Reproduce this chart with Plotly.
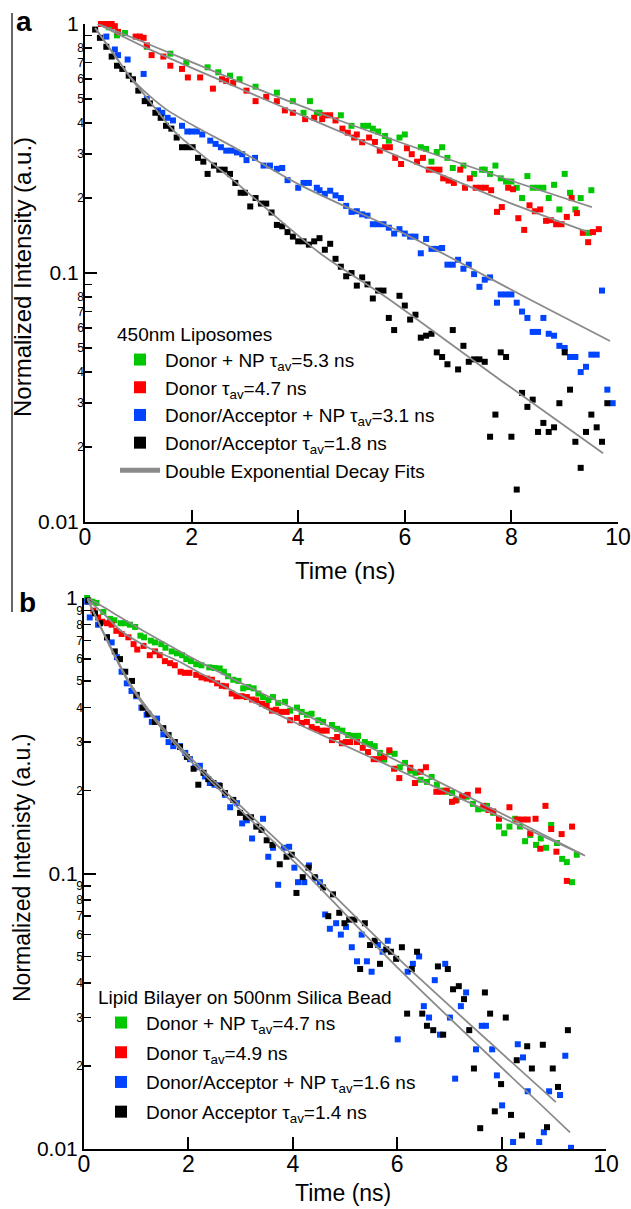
import plotly.graph_objects as go

# ---------------- Panel a data (450nm Liposomes) ----------------
a_green_t = [0.3, 0.45, 0.6, 0.75, 1.16, 1.6, 1.9, 2.3, 2.5, 2.72, 2.9, 3.2, 3.6, 3.9, 4.1, 4.22, 4.35, 4.4,
             4.8, 5.0, 5.22, 5.31, 5.4, 5.5, 5.63, 5.7, 5.9, 6.0, 6.3, 6.4, 6.5, 6.6, 6.7, 6.8, 6.9, 7.1, 7.3,
             7.45, 7.5, 7.6, 7.7, 7.8, 7.9, 8.0, 8.1, 8.2, 8.3, 8.4, 8.5, 8.6, 8.7, 8.8, 8.9, 9.0, 9.1, 9.2,
             9.3, 9.45, 9.5]
a_green_i = [1.0, 0.97, 0.90, 0.92, 0.81, 0.76, 0.70, 0.67, 0.64, 0.62, 0.60, 0.56, 0.53, 0.49, 0.44, 0.49,
             0.44, 0.44, 0.43, 0.39, 0.39, 0.39, 0.38, 0.37, 0.355, 0.34, 0.35, 0.36, 0.32, 0.315, 0.28, 0.306,
             0.32, 0.29, 0.264, 0.27, 0.25, 0.26, 0.26, 0.25, 0.27, 0.24, 0.233, 0.233, 0.22, 0.20, 0.245,
             0.22, 0.22, 0.22, 0.20, 0.226, 0.18, 0.25, 0.21, 0.18, 0.20, 0.145, 0.215]

a_red_t = [0.3, 0.4, 0.5, 0.56, 0.62, 0.95, 1.03, 1.1, 1.16, 1.25, 1.47, 1.6, 1.82, 1.93, 2.16, 2.4, 2.57,
           2.65, 2.78, 3.03, 3.2, 3.4, 3.6, 3.75, 3.9, 4.13, 4.3, 4.45, 4.5, 4.6, 4.7, 4.83, 4.93, 5.05, 5.1,
           5.2, 5.33, 5.44, 5.53, 5.63, 5.72, 5.82, 5.93, 6.04, 6.13, 6.23, 6.34, 6.45, 6.55, 6.65, 6.72,
           6.82, 6.92, 7.04, 7.13, 7.22, 7.33, 7.43, 7.52, 7.62, 7.73, 7.82, 7.94, 8.03, 8.13, 8.24, 8.34,
           8.44, 8.54, 8.65, 8.74, 8.84, 8.94, 9.04, 9.13, 9.23, 9.34, 9.44, 9.53, 9.64]
a_red_i = [1.0, 1.0, 1.0, 0.98, 0.93, 0.89, 0.89, 0.88, 0.82, 0.75, 0.74, 0.68, 0.66, 0.61, 0.61, 0.55,
           0.60, 0.59, 0.58, 0.54, 0.49, 0.51, 0.49, 0.45, 0.44, 0.415, 0.42, 0.415, 0.43, 0.43, 0.41, 0.38,
           0.366, 0.35, 0.36, 0.335, 0.35, 0.336, 0.31, 0.32, 0.32, 0.29, 0.274, 0.317, 0.30, 0.28, 0.29,
           0.26, 0.26, 0.26, 0.24, 0.235, 0.23, 0.26, 0.22, 0.24, 0.22, 0.22, 0.22, 0.215, 0.176, 0.184,
           0.22, 0.217, 0.166, 0.149, 0.187, 0.177, 0.18, 0.162, 0.163, 0.157, 0.157, 0.168, 0.20, 0.174,
           0.145, 0.133, 0.146, 0.15]

a_blue_t = [0.4, 0.56, 0.62, 0.8, 1.1, 1.16, 1.37, 1.45, 1.55, 1.65, 1.82, 1.92, 2.0, 2.1, 2.2, 2.35, 2.45,
            2.55, 2.65, 2.75, 2.85, 2.95, 3.03, 3.19, 3.35, 3.47, 3.6, 3.7, 3.8, 4.0, 4.1, 4.2, 4.35, 4.4,
            4.5, 4.6, 4.7, 4.8, 4.9, 5.0, 5.1, 5.2, 5.3, 5.4, 5.5, 5.6, 5.7, 5.8, 5.9, 6.0, 6.1, 6.2, 6.3,
            6.4, 6.5, 6.6, 6.7, 6.8, 6.9, 7.0, 7.1, 7.2, 7.3, 7.4, 7.5, 7.6, 7.73, 7.8, 7.9, 8.0, 8.1, 8.2,
            8.3, 8.4, 8.5, 8.6, 8.7, 8.8, 8.9, 9.0, 9.1, 9.2, 9.3, 9.4, 9.5, 9.6, 9.7, 9.8, 9.9]
a_blue_i = [0.89, 0.79, 0.75, 0.72, 0.63, 0.50, 0.45, 0.44, 0.42, 0.41, 0.39, 0.37, 0.37, 0.37, 0.36, 0.34,
            0.33, 0.32, 0.31, 0.31, 0.305, 0.30, 0.284, 0.29, 0.27, 0.27, 0.262, 0.264, 0.236, 0.22, 0.23,
            0.23, 0.22, 0.215, 0.208, 0.214, 0.205, 0.20, 0.186, 0.176, 0.177, 0.172, 0.17, 0.157, 0.157,
            0.157, 0.152, 0.144, 0.15, 0.144, 0.14, 0.14, 0.12, 0.137, 0.125, 0.125, 0.126, 0.108, 0.108,
            0.113, 0.104, 0.108, 0.099, 0.088, 0.094, 0.096, 0.076, 0.082, 0.082, 0.082, 0.076, 0.07,
            0.066, 0.058, 0.058, 0.066, 0.057, 0.056, 0.051, 0.05, 0.046, 0.046, 0.04, 0.042, 0.047, 0.047,
            0.085, 0.034, 0.030]

a_black_t = [0.19, 0.28, 0.4, 0.5, 0.6, 0.7, 0.82, 0.9, 1.0, 1.12, 1.22, 1.32, 1.42, 1.52, 1.62, 1.72, 1.82,
             1.92, 2.02, 2.12, 2.22, 2.3, 2.42, 2.52, 2.62, 2.72, 2.82, 2.92, 3.0, 3.1, 3.2, 3.3, 3.4, 3.5,
             3.6, 3.7, 3.8, 3.9, 4.0, 4.1, 4.2, 4.3, 4.4, 4.5, 4.6, 4.7, 4.8, 4.9, 5.0, 5.1, 5.2, 5.3, 5.4,
             5.5, 5.6, 5.7, 5.8, 5.9, 6.0, 6.1, 6.2, 6.3, 6.4, 6.5, 6.6, 6.7, 6.8, 6.9, 7.0, 7.1, 7.2, 7.3,
             7.4, 7.5, 7.6, 7.7, 7.8, 7.9, 8.0, 8.1, 8.2, 8.3, 8.4, 8.5, 8.6, 8.7, 8.8, 8.9, 9.0, 9.1, 9.2,
             9.3, 9.4, 9.5, 9.6, 9.7, 9.8]
a_black_i = [0.95, 0.88, 0.81, 0.74, 0.68, 0.66, 0.62, 0.60, 0.54, 0.49, 0.48, 0.44, 0.42, 0.39, 0.38, 0.35,
             0.32, 0.32, 0.32, 0.29, 0.28, 0.25, 0.27, 0.26, 0.26, 0.25, 0.23, 0.21, 0.21, 0.185, 0.20, 0.19,
             0.19, 0.175, 0.156, 0.154, 0.146, 0.14, 0.134, 0.134, 0.13, 0.134, 0.138, 0.124, 0.131, 0.114,
             0.106, 0.097, 0.10, 0.089, 0.096, 0.09, 0.079, 0.085, 0.085, 0.066, 0.059, 0.081, 0.074, 0.065,
             0.068, 0.055, 0.056, 0.057, 0.048, 0.046, 0.043, 0.059, 0.041, 0.051, 0.044, 0.045, 0.045,
             0.044, 0.022, 0.027, 0.048, 0.046, 0.022, 0.0135, 0.033, 0.029, 0.031, 0.023, 0.025, 0.023,
             0.024, 0.03, 0.048, 0.034, 0.021, 0.0165, 0.023, 0.027, 0.024, 0.021, 0.030]

# Fit curves
a_fit_green_t = [0.24, 1.16, 2.78, 4.41, 5.91, 7.79, 9.51]
a_fit_green_i = [1.0, 0.835, 0.60, 0.438, 0.335, 0.243, 0.184]
a_fit_red_t = [0.24, 1.16, 2.78, 4.41, 5.91, 7.79, 9.44]
a_fit_red_i = [1.0, 0.80, 0.565, 0.40, 0.292, 0.198, 0.146]
a_fit_blue_t = [0.19, 0.525, 0.844, 1.163, 1.538, 2.10, 2.78, 4.03, 6.10, 8.29, 9.85]
a_fit_blue_i = [0.963, 0.765, 0.615, 0.525, 0.452, 0.384, 0.321, 0.226, 0.140, 0.0794, 0.0533]
a_fit_black_t = [0.19, 0.525, 0.844, 1.163, 1.69, 2.78, 4.41, 5.67, 7.79, 9.72]
a_fit_black_i = [0.963, 0.765, 0.612, 0.505, 0.368, 0.236, 0.120, 0.0794, 0.0372, 0.0189]

# ---------------- Panel b data (Lipid Bilayer on 500nm Silica Bead) ----------------
b_green_t = [0.06, 0.08, 0.16, 0.24, 0.37, 0.5, 0.58, 0.7, 0.78, 0.88, 0.98, 1.08, 1.15, 1.28, 1.36, 1.48,
             1.56, 1.68, 1.78, 1.88, 1.96, 2.05, 2.15, 2.25, 2.4, 2.5, 2.6, 2.68, 2.76, 2.86, 2.96, 3.05,
             3.15, 3.25, 3.34, 3.43, 3.53, 3.62, 3.72, 3.85, 3.95, 4.08, 4.17, 4.27, 4.36, 4.49, 4.58, 4.75,
             4.85, 4.95, 5.06, 5.15, 5.25, 5.38, 5.48, 5.57, 5.67, 5.75, 5.85, 5.95, 6.05, 6.15, 6.25, 6.35,
             6.45, 6.57, 6.66, 6.76, 6.85, 6.95, 7.05, 7.14, 7.24, 7.33, 7.45, 7.55, 7.65, 7.72, 7.84, 7.95,
             8.05, 8.15, 8.26, 8.35, 8.45, 8.55, 8.66, 8.75, 8.85, 8.95, 9.06, 9.16, 9.25, 9.35, 9.44]
b_green_i = [1.0, 0.97, 0.97, 0.96, 0.89, 0.84, 0.83, 0.81, 0.81, 0.80, 0.785, 0.73, 0.72, 0.70, 0.69, 0.68,
             0.66, 0.64, 0.63, 0.62, 0.60, 0.59, 0.575, 0.57, 0.56, 0.557, 0.555, 0.54, 0.52, 0.505, 0.50,
             0.47, 0.475, 0.47, 0.45, 0.437, 0.426, 0.437, 0.416, 0.42, 0.39, 0.40, 0.386, 0.377, 0.38, 0.36,
             0.355, 0.346, 0.335, 0.33, 0.318, 0.316, 0.316, 0.30, 0.295, 0.29, 0.274, 0.259, 0.276, 0.272,
             0.243, 0.252, 0.236, 0.232, 0.219, 0.215, 0.224, 0.21, 0.20, 0.198, 0.196, 0.185, 0.19, 0.19,
             0.179, 0.171, 0.172, 0.176, 0.166, 0.148, 0.14, 0.148, 0.158, 0.148, 0.131, 0.138, 0.127, 0.134,
             0.124, 0.15, 0.129, 0.113, 0.11, 0.093, 0.117]

b_red_t = [0.08, 0.18, 0.27, 0.35, 0.44, 0.53, 0.62, 0.72, 0.85, 0.95, 1.02, 1.14, 1.26, 1.36, 1.45, 1.55,
           1.65, 1.74, 1.85, 1.93, 2.02, 2.15, 2.25, 2.35, 2.45, 2.55, 2.64, 2.72, 2.83, 2.92, 3.02, 3.12,
           3.22, 3.3, 3.41, 3.5, 3.6, 3.68, 3.78, 3.88, 3.95, 4.08, 4.17, 4.27, 4.36, 4.46, 4.55, 4.65, 4.75,
           4.85, 4.94, 5.02, 5.1, 5.23, 5.34, 5.44, 5.55, 5.65, 5.75, 5.85, 5.94, 6.04, 6.25, 6.34, 6.45,
           6.55, 6.75, 6.85, 6.95, 7.05, 7.12, 7.25, 7.35, 7.55, 7.65, 7.75, 7.84, 7.95, 8.15, 8.3, 8.4,
           8.5, 8.55, 8.65, 8.74, 8.84, 8.95, 9.05, 9.15, 9.25, 9.35]
b_red_i = [0.97, 0.90, 0.85, 0.82, 0.81, 0.80, 0.76, 0.74, 0.72, 0.68, 0.65, 0.67, 0.62, 0.64, 0.62, 0.59,
           0.58, 0.57, 0.54, 0.535, 0.535, 0.526, 0.515, 0.51, 0.505, 0.49, 0.48, 0.478, 0.45, 0.44, 0.44,
           0.437, 0.428, 0.425, 0.413, 0.406, 0.39, 0.393, 0.386, 0.386, 0.36, 0.367, 0.352, 0.355, 0.34,
           0.335, 0.33, 0.33, 0.305, 0.313, 0.297, 0.30, 0.30, 0.30, 0.286, 0.276, 0.26, 0.26, 0.265, 0.28,
           0.24, 0.222, 0.242, 0.213, 0.234, 0.243, 0.198, 0.198, 0.20, 0.182, 0.184, 0.191, 0.193, 0.20,
           0.176, 0.17, 0.168, 0.158, 0.174, 0.157, 0.157, 0.157, 0.14, 0.158, 0.123, 0.176, 0.145, 0.12,
           0.139, 0.094, 0.148]

b_blue_t = [0.06, 0.11, 0.27, 0.44, 0.53, 0.63, 0.72, 0.82, 0.91, 1.0, 1.1, 1.2, 1.3, 1.4, 1.52, 1.62, 1.71,
            1.84, 1.94, 2.03, 2.13, 2.22, 2.32, 2.41, 2.5, 2.58, 2.7, 2.8, 2.93, 3.03, 3.12, 3.22, 3.43,
            3.53, 3.62, 3.72, 3.83, 3.93, 4.03, 4.1, 4.22, 4.31, 4.43, 4.52, 4.62, 4.71, 4.83, 4.92, 5.02,
            5.13, 5.23, 5.32, 5.42, 5.51, 5.63, 5.72, 5.82, 6.01, 6.2, 6.3, 6.42, 6.51, 6.61, 6.72, 6.82,
            6.92, 7.01, 7.11, 7.22, 7.32, 7.51, 7.62, 7.7, 7.82, 7.91, 8.01, 8.22, 8.31, 8.41, 8.5, 8.72,
            8.81, 8.91, 9.12, 9.22, 9.33]
b_blue_i = [0.97, 0.85, 0.80, 0.72, 0.69, 0.61, 0.54, 0.49, 0.46, 0.44, 0.40, 0.377, 0.355, 0.365, 0.32,
            0.30, 0.29, 0.29, 0.274, 0.26, 0.243, 0.246, 0.225, 0.213, 0.21, 0.209, 0.193, 0.174, 0.18,
            0.152, 0.156, 0.134, 0.158, 0.115, 0.124, 0.091, 0.124, 0.125, 0.105, 0.093, 0.093, 0.107,
            0.096, 0.093, 0.071, 0.063, 0.066, 0.06, 0.064, 0.054, 0.048, 0.06, 0.048, 0.044, 0.055, 0.052,
            0.057, 0.025, 0.044, 0.047, 0.05, 0.033, 0.03, 0.041, 0.026, 0.047, 0.03, 0.018, 0.033, 0.037,
            0.023, 0.028, 0.028, 0.023, 0.0185, 0.0144, 0.0106, 0.024, 0.0215, 0.0162, 0.0106, 0.0115,
            0.0162, 0.0157, 0.0218, 0.0101]

b_black_t = [0.08, 0.21, 0.31, 0.44, 0.59, 0.69, 0.79, 0.92, 1.01, 1.13, 1.23, 1.36, 1.52, 1.62, 1.74, 1.84,
             1.97, 2.1, 2.19, 2.29, 2.38, 2.48, 2.6, 2.7, 2.86, 2.99, 3.1, 3.2, 3.3, 3.4, 3.5, 3.61, 3.75,
             3.88, 3.98, 4.07, 4.19, 4.3, 4.42, 4.58, 4.68, 4.77, 4.89, 4.99, 5.08, 5.18, 5.29, 5.38, 5.48,
             5.57, 5.67, 5.79, 5.88, 5.98, 6.09, 6.19, 6.28, 6.38, 6.48, 6.57, 6.69, 6.78, 6.88, 6.97, 7.07,
             7.18, 7.28, 7.38, 7.47, 7.59, 7.68, 7.78, 7.87, 7.99, 8.08, 8.18, 8.29, 8.39, 8.49, 8.58, 8.79,
             8.87, 8.98, 9.08, 9.27]
b_black_i = [0.98, 0.88, 0.81, 0.72, 0.64, 0.60, 0.54, 0.50, 0.445, 0.40, 0.38, 0.355, 0.337, 0.318, 0.30,
             0.288, 0.265, 0.24, 0.21, 0.232, 0.22, 0.213, 0.208, 0.196, 0.185, 0.166, 0.16, 0.16, 0.148,
             0.144, 0.132, 0.127, 0.108, 0.115, 0.117, 0.085, 0.097, 0.105, 0.097, 0.089, 0.07, 0.084, 0.072,
             0.066, 0.068, 0.068, 0.045, 0.066, 0.055, 0.057, 0.047, 0.053, 0.052, 0.049, 0.054, 0.031,
             0.045, 0.052, 0.031, 0.028, 0.027, 0.046, 0.026, 0.045, 0.038, 0.039, 0.035, 0.027, 0.0196,
             0.0119, 0.037, 0.031, 0.0137, 0.0172, 0.03, 0.0133, 0.021, 0.0112, 0.0236, 0.0196, 0.0239,
             0.012, 0.0196, 0.0168, 0.027]

b_fit_green_t = [0.06, 0.12, 0.56, 1.21, 2.22, 3.0, 4.14, 9.6]
b_fit_green_i = [1.0, 0.99, 0.882, 0.746, 0.585, 0.492, 0.386, 0.116]
b_fit_red_t = [0.06, 0.44, 0.69, 1.21, 1.84, 2.22, 3.51, 4.14, 9.56]
b_fit_red_i = [0.99, 0.853, 0.765, 0.664, 0.586, 0.534, 0.395, 0.346, 0.117]
b_fit_blue_t = [0.077, 0.94, 1.84, 4.14, 6.05, 9.04]
b_fit_blue_i = [0.983, 0.471, 0.288, 0.110, 0.0486, 0.0148]
b_fit_black_t = [0.077, 0.94, 1.84, 4.14, 6.05, 9.31]
b_fit_black_i = [0.983, 0.463, 0.281, 0.105, 0.0447, 0.0115]

# Tick labels
major_vals = [0.01, 0.1, 1]
major_text = ["0.01", "0.1", "1"]
minor_vals_a = [0.02, 0.03, 0.04, 0.05, 0.06, 0.07, 0.08, 0.2, 0.3, 0.4, 0.5, 0.6, 0.7, 0.8]
minor_text_a = ["2", "3", "4", "5", "6", "7", "8", "2", "3", "4", "5", "6", "7", "8"]
minor_unlabeled_a = [0.09, 0.9]
minor_vals_b = [0.02, 0.03, 0.04, 0.05, 0.06, 0.07, 0.08, 0.09, 0.2, 0.3, 0.4, 0.5, 0.6, 0.7, 0.8, 0.9]
minor_text_b = ["2", "3", "4", "5", "6", "7", "8", "9", "2", "3", "4", "5", "6", "7", "8", "9"]
x_ticks = [0, 2, 4, 6, 8, 10]

names_a = ["Donor + NP τ<sub>av</sub>=5.3 ns", "Donor τ<sub>av</sub>=4.7 ns",
           "Donor/Acceptor + NP τ<sub>av</sub>=3.1 ns", "Donor/Acceptor τ<sub>av</sub>=1.8 ns",
           "Double Exponential Decay Fits"]
names_b = ["Donor + NP τ<sub>av</sub>=4.7 ns", "Donor τ<sub>av</sub>=4.9 ns",
           "Donor/Acceptor + NP τ<sub>av</sub>=1.6 ns", "Donor Acceptor τ<sub>av</sub>=1.4 ns"]

GREEN = "#00c800"
RED = "#ff0000"
BLUE = "#0044ff"
BLACK = "#000000"
GRAY = "#8a8a8a"
FONT = "Arial, Liberation Sans, sans-serif"

fig = go.Figure()

def add_points(t, v, color, name, xa, ya, leg, group):
    fig.add_trace(go.Scatter(x=t, y=v, mode="markers", name=name, xaxis=xa, yaxis=ya, legend=leg,
                             legendgroup=group,
                             marker=dict(symbol="square", size=6, color=color, line=dict(width=0)),
                             cliponaxis=False))

def add_fit(t, v, xa, ya, leg, name, show, group):
    fig.add_trace(go.Scatter(x=t, y=v, mode="lines", name=name, xaxis=xa, yaxis=ya, legend=leg,
                             legendgroup=group,
                             line=dict(color=GRAY, width=1.8, shape="spline", smoothing=0.8),
                             showlegend=show, cliponaxis=False))

# Panel a
add_points(a_green_t, a_green_i, GREEN, names_a[0], "x", "y", "legend", "a1")
add_points(a_red_t, a_red_i, RED, names_a[1], "x", "y", "legend", "a2")
add_points(a_blue_t, a_blue_i, BLUE, names_a[2], "x", "y", "legend", "a3")
add_points(a_black_t, a_black_i, BLACK, names_a[3], "x", "y", "legend", "a4")
add_fit(a_fit_green_t, a_fit_green_i, "x", "y", "legend", names_a[4], True, "a5")
add_fit(a_fit_red_t, a_fit_red_i, "x", "y", "legend", names_a[4], False, "a5")
add_fit(a_fit_blue_t, a_fit_blue_i, "x", "y", "legend", names_a[4], False, "a5")
add_fit(a_fit_black_t, a_fit_black_i, "x", "y", "legend", names_a[4], False, "a5")

# Panel b
add_points(b_green_t, b_green_i, GREEN, names_b[0], "x2", "y2", "legend2", "b1")
add_points(b_red_t, b_red_i, RED, names_b[1], "x2", "y2", "legend2", "b2")
add_points(b_blue_t, b_blue_i, BLUE, names_b[2], "x2", "y2", "legend2", "b3")
add_points(b_black_t, b_black_i, BLACK, names_b[3], "x2", "y2", "legend2", "b4")
add_fit(b_fit_green_t, b_fit_green_i, "x2", "y2", "legend2", "fit", False, "b5")
add_fit(b_fit_red_t, b_fit_red_i, "x2", "y2", "legend2", "fit", False, "b5")
add_fit(b_fit_blue_t, b_fit_blue_i, "x2", "y2", "legend2", "fit", False, "b5")
add_fit(b_fit_black_t, b_fit_black_i, "x2", "y2", "legend2", "fit", False, "b5")

# empty traces so the overlay (minor-label) axes are drawn
fig.add_trace(go.Scatter(x=[], y=[], xaxis="x", yaxis="y3", showlegend=False))
fig.add_trace(go.Scatter(x=[], y=[], xaxis="x2", yaxis="y4", showlegend=False))

W, H = 631, 1209
def px(v):
    return v / W
def py(v):
    return (H - v) / H

xcommon = dict(range=[0, 10], tickvals=x_ticks, ticks="inside", ticklen=12, tickwidth=2,
               tickcolor="black", showline=True, linewidth=2, linecolor="black", showgrid=False,
               zeroline=False, tickfont=dict(size=23, color="black", family=FONT), ticklabelstandoff=-7,
               automargin=False)
ymajor = dict(type="log", range=[-2, 0], tickvals=major_vals, ticktext=major_text, ticks="inside",
              ticklen=12, tickwidth=2, tickcolor="black", showline=True, linewidth=2, linecolor="black",
              showgrid=False, zeroline=False, tickfont=dict(size=21, color="black", family=FONT),
              automargin=False)
yminor = dict(type="log", range=[-2, 0], ticks="inside", ticklen=7, tickwidth=1.5,
              tickcolor="black", showline=False, showgrid=False, zeroline=False, side="left",
              tickfont=dict(size=12, color="black", family=FONT), ticklabelstandoff=0, automargin=False)

fig.update_layout(
    width=W, height=H, margin=dict(l=0, r=0, t=0, b=0, autoexpand=False),
    paper_bgcolor="white", plot_bgcolor="white",
    font=dict(family=FONT, color="black"),
    xaxis=dict(domain=[px(85), px(618)], anchor="y", **xcommon),
    yaxis=dict(domain=[py(522), py(24)], anchor="x", **ymajor),
    yaxis3=dict(overlaying="y", anchor="x", tickvals=minor_vals_a, ticktext=minor_text_a,
                minor=dict(tickvals=minor_unlabeled_a, ticks="inside", ticklen=7, tickwidth=1.5,
                           tickcolor="black", showgrid=False),
                **yminor),
    xaxis2=dict(domain=[px(84), px(606)], anchor="y2", **xcommon),
    yaxis2=dict(domain=[py(1149), py(598)], anchor="x2", **ymajor),
    yaxis4=dict(overlaying="y2", anchor="x2", tickvals=minor_vals_b, ticktext=minor_text_b, **yminor),
    legend=dict(x=px(115), y=py(316), xanchor="left", yanchor="top", bgcolor="rgba(0,0,0,0)",
                font=dict(size=19, family=FONT, color="black"), itemsizing="constant", itemwidth=40,
                title=dict(text="450nm Liposomes", font=dict(size=19, family=FONT, color="black")),
                tracegroupgap=0),
    legend2=dict(x=px(96), y=py(979), xanchor="left", yanchor="top", bgcolor="rgba(0,0,0,0)",
                 font=dict(size=19, family=FONT, color="black"), itemsizing="constant", itemwidth=40,
                 title=dict(text="Lipid Bilayer on 500nm Silica Bead",
                            font=dict(size=19, family=FONT, color="black")),
                 tracegroupgap=2),
    showlegend=True,
)

annos = [
    dict(text="Normalized Intensity (a.u.)", x=px(22), y=py(277), textangle=-90, font=dict(size=24)),
    dict(text="Normalized Intenisty (a.u.)", x=px(22), y=py(868), textangle=-90, font=dict(size=23)),
    dict(text="Time (ns)", x=px(345), y=py(570), font=dict(size=24)),
    dict(text="Time (ns)", x=px(343), y=py(1193), font=dict(size=23)),
    dict(text="<b>a</b>", x=px(24), y=py(22), font=dict(size=28)),
    dict(text="<b>b</b>", x=px(27), y=py(602), font=dict(size=28)),
]
for a in annos:
    fig.add_annotation(xref="paper", yref="paper", showarrow=False, xanchor="center", yanchor="middle",
                       font_family=FONT, font_color="black", **a)

fig.add_shape(type="line", xref="paper", yref="paper", x0=px(12), x1=px(12), y0=py(13), y1=py(612),
              line=dict(color="#333333", width=1.5))

fig.write_html("out.html", config={"displayModeBar": False, "staticPlot": True},
               post_script="document.body.style.margin='0px';document.body.style.overflow='hidden';")
